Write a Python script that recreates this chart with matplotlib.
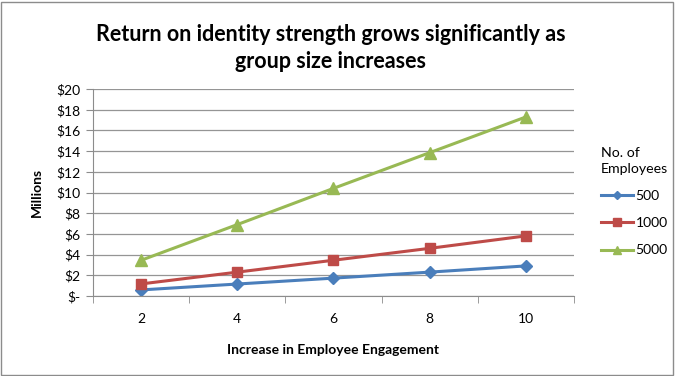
import matplotlib.pyplot as plt
from matplotlib.ticker import FuncFormatter, MultipleLocator
from matplotlib.patches import Rectangle

engagement = [2, 4, 6, 8, 10]
emp_500 = [0.58, 1.15, 1.72, 2.3, 2.9]
emp_1000 = [1.16, 2.3, 3.45, 4.6, 5.8]
emp_5000 = [3.45, 6.9, 10.4, 13.85, 17.3]
series_names = ['500', '1000', '5000']

plt.rcParams['font.family'] = ['Lato', 'DejaVu Sans']

fig = plt.figure(figsize=(6.75, 3.76), dpi=100)
ax = fig.add_axes([0.138, 0.213, 0.712, 0.55])

ax.plot(engagement, emp_500, color='#4a7ebb', lw=2.2, marker='D', ms=6, label=series_names[0])
ax.plot(engagement, emp_1000, color='#be4b48', lw=2.2, marker='s', ms=7.5, label=series_names[1])
ax.plot(engagement, emp_5000, color='#98b954', lw=2.2, marker='^', ms=8, label=series_names[2])

ax.set_xlim(1, 11)
ax.set_ylim(0, 20)
ax.set_xticks(engagement)
ax.xaxis.set_minor_locator(MultipleLocator(2, offset=1))
ax.yaxis.set_major_locator(MultipleLocator(2))
ax.yaxis.set_major_formatter(FuncFormatter(lambda v, p: '$-' if v == 0 else f'${v:.0f}'))
ax.grid(axis='y', color='#959595', lw=0.9)
ax.set_axisbelow(True)

for s in ['top', 'right']:
    ax.spines[s].set_visible(False)
for s in ['left', 'bottom']:
    ax.spines[s].set_color('#8c8c8c')
ax.tick_params(axis='x', which='major', length=0, pad=12, labelsize=10)
ax.tick_params(axis='x', which='minor', length=5, color='#8c8c8c')
ax.tick_params(axis='y', length=5, color='#8c8c8c', labelsize=10, pad=4)

ax.set_ylabel('Millions', fontsize=10, fontweight='bold', labelpad=10)
ax.set_xlabel('Increase in Employee Engagement', fontsize=10, fontweight='bold', labelpad=14)

fig.text(0.49, 0.935, 'Return on identity strength grows significantly as\ngroup size increases',
         ha='center', va='top', fontsize=15.5, fontweight='bold', linespacing=1.3)

leg = ax.legend(loc='upper left', bbox_to_anchor=(1.03, 0.78), frameon=False,
                title='No. of\nEmployees', fontsize=10, title_fontsize=10.2,
                handlelength=2.3, labelspacing=1.1, handletextpad=0.2, markerscale=0.75)
leg._legend_box.align = 'left'
leg.get_title().set_linespacing(1.35)

fig.patches.append(Rectangle((0.002, 0.003), 0.995, 0.993, transform=fig.transFigure,
                             fill=False, edgecolor='#8c8c8c', lw=1))

fig.savefig('out.png', dpi=100)
